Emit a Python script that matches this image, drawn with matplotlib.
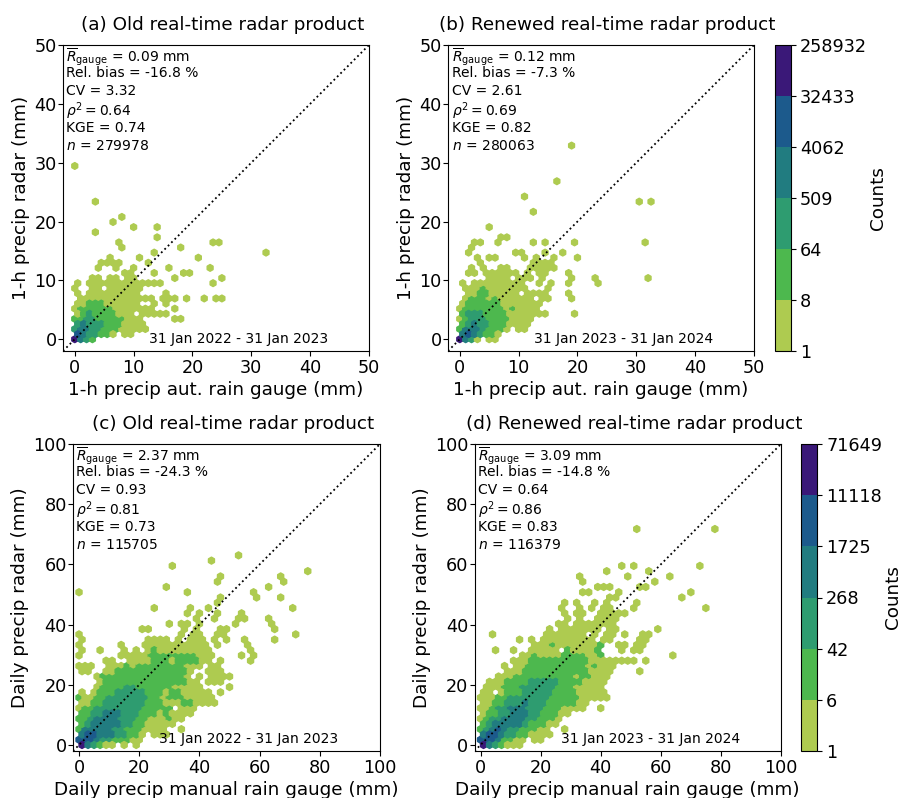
import numpy as np
import matplotlib
matplotlib.use('Agg')
import matplotlib.pyplot as plt
from matplotlib.colors import ListedColormap, BoundaryNorm

# Every row below is one row of hexagons, from the bottom up: "first_col:levels"
ROWS_A = ["0:6432", "0:5433221 8:11", "0:3443322211111", "0:343332221111",
          "0:223322222111 17:11", "0:1232222111 11:11111", "0:12222221111111 17:1",
          "0:11222111111 13:1 15:1", "1:1111111111111 15:111 19:1 22:1 24:11",
          "0:1 2:111111111 15:1", "0:1 3:11 6:111111", "0:1 2:1111111111111 23:1",
          "3:11 6:11 9:11 17:1 25:1", "8:11 13:1 18:11", "4:1 7:1 10:1 16:1 23:1",
          "4:1111 12:1", "6:1 11:1 21:1", "13:1 32:1", "8:1 18:1", "7:1 23:11",
          "14:1", "3:1", "10:1 14:1", "6:1", "8:1", "", "", "3:1",
          "", "", "", "", "", "", "0:1"]

ROWS_B = ["0:6431 5:11", "0:4543221", "0:244432221 10:11", "0:234332221111",
          "0:1233322221111", "0:233322221111111 19:1", "0:12222222121111",
          "0:12222221111111", "1:122212111111 14:11 19:1", "1:112211111 11:1111 18:1",
          "1:11121111111 15:1", "0:1 2:111111111 13:1 15:1 18:1 23:1",
          "5:1111 10:111 14:1 19:1 23:1 32:1", "1:11 4:111111 11:1 13:11 18:1",
          "2:1 4:1 7:11 12:11111", "3:1 12:1111", "3:1 5:11 11:1 13:1 16:1 20:1",
          "1:1 9:11 14:1 17:1", "2:1", "2:11 6:1 12:1 14:1 19:1 31:1", "7:11", "",
          "5:1", "", "", "12:1", "", "30:1 32:1", "11:1", "", "", "16:1",
          "", "", "", "", "", "", "19:1"]

ROWS_C = ["0:643211 7:1 9:1", "0:55543322211", "0:45544433221 12:111",
          "0:244444332221111 17:1", "0:2344444332211111", "0:223444433322111211",
          "0:2233444333222121111", "0:1223333333322222 17:111", "0:11223333333222111221111",
          "0:21122333333322122211111", "0:1 2:1222333332221221 17:11111 23:1",
          "3:1222233222222 16:11111 25:1", "3:12222222222222211 21:111",
          "3:1222222222222221 20:1 22:1111", "0:11 4:112222222222221 21:111",
          "0:111 5:1112122222222111 22:11", "4:11 8:11112221222211 23:1 28:1",
          "0:1 7:1111122222222111 27:1 29:1", "0:1 3:1 7:1 9:1 11:12111111111 28:1",
          "0:1 7:1 11:11111111111 23:1 28:1", "0:1 11:1111 16:1 18:111 22:1 24:1 27:1 32:1",
          "0:1 17:1 19:11 23:11 36:1", "10:11 17:1 19:1 23:11 32:1",
          "15:1 17:11 20:1 26:1 32:1", "19:1 22:1 26:11 31:1", "18:1 20:1 23:1 27:1",
          "12:1 18:1 21:1 35:1", "23:1", "23:1 29:1 33:1", "0:1 18:1 29:1", "14:1 31:1",
          "23:1 34:1", "23:1 33:1", "38:1", "15:1", "22:1", "26:1"]

ROWS_D = ["0:643211 6:1", "0:55542211 9:11", "0:455433221111", "0:234543322211 14:1",
          "0:2344444322211", "0:12334444332221", "0:122334443322211",
          "0:112334443332221111 20:1", "0:112233343332222211", "0:1112233333332222211111",
          "0:11 3:122233333222211111", "1:111222333333222 16:11111",
          "1:1112222333332222 17:1111", "3:1112222222222122111",
          "4:111222222222221111 26:1", "4:1 6:1122222222221 19:2111",
          "5:111222222222211111111 27:1", "7:112111122221 19:12 32:1",
          "2:1 5:1 8:11111 14:211112 23:1 25:11", "9:111211111112 23:11 26:11",
          "6:1 8:1 10:111111111 20:11 26:11", "2:1 11:1111111 19:1 21:11 24:1 27:11",
          "11:1 13:1111111 21:11 29:1", "13:11 16:111111 22:1", "14:1 16:1 19:1111",
          "14:1 16:11 20:111 23:11", "13:1 16:1 18:1 20:11 25:1 37:1",
          "14:1 16:1 19:1 21:1 26:1", "21:11 33:1", "17:11 23:1 35:1", "19:111 26:11",
          "17:1 29:1", "16:1 24:1 31:1", "21:1 28:1", "23:1 25:1 36:1",
          "", "", "", "", "", "", "26:1 39:1"]

# one count per colour level
COUNTS_HOURLY = [3, 23, 180, 1400, 11500, 90000]
COUNTS_DAILY = [2, 16, 105, 680, 4400, 28000]
BOUNDS_HOURLY = [1, 8, 64, 509, 4062, 32433, 258932]
BOUNDS_DAILY = [1, 6, 42, 268, 1725, 11118, 71649]
COLORS = ['#AECB50', '#4DB84E', '#2E9C70', '#217C80', '#1C5A8C', '#3A1878']

TITLES = ['(a) Old real-time radar product', '(b) Renewed real-time radar product',
          '(c) Old real-time radar product', '(d) Renewed real-time radar product']
PERIODS = ['31 Jan 2022 - 31 Jan 2023', '31 Jan 2023 - 31 Jan 2024',
           '31 Jan 2022 - 31 Jan 2023', '31 Jan 2023 - 31 Jan 2024']
R_GAUGE = ['0.09', '0.12', '2.37', '3.09']
REL_BIAS = ['-16.8', '-7.3', '-24.3', '-14.8']
CV = ['3.32', '2.61', '0.93', '0.64']
RHO2 = ['0.64', '0.69', '0.81', '0.86']
KGE = ['0.74', '0.82', '0.73', '0.83']
N = ['279978', '280063', '115705', '116379']

W, H = 901, 798
TICK_SIZE = 12.7
LABEL_SIZE = 13.2
TITLE_SIZE = 13.2
TEXT_SIZE = 10
# baselines of the stat lines, pixels below the top of the axes
STAT_BASELINES = [17, 32, 50, 71, 87, 105]


def px_axes(fig, left, top, right, bottom):
    return fig.add_axes([left/W, 1-bottom/H, (right-left)/W, (bottom-top)/H])


def rows_to_points(rows, counts, sx, row_step, even_shift, odd_shift):
    xs, ys, cs = [], [], []
    for k, row in enumerate(rows):
        for part in row.split():
            first, levels = part.split(':')
            for i, lev in enumerate(levels):
                shift = odd_shift if k % 2 else even_shift
                xs.append((int(first)+i)*sx + shift)
                ys.append(k*row_step)
                cs.append(counts[int(lev)-1])
    return xs, ys, cs


def draw_panel(ax, i, rows, counts, bounds, top, xlabel, ylabel):
    cmap = ListedColormap(COLORS)
    norm = BoundaryNorm(bounds, cmap.N)
    sx = top/50
    if top == 50:
        row_step = 0.866
        xs, ys, cs = rows_to_points(rows, counts, sx, row_step, 0, sx/2)
        extent = (0, 50, 0, 58*row_step)
    else:
        # daily panels: the even rows sit half a cell right of the odd ones
        row_step = 1.75
        xs, ys, cs = rows_to_points(rows, counts, sx, row_step, sx/2, 0)
        extent = (0, 100, -row_step, 57*row_step)
    hb = ax.hexbin(xs, ys, C=cs, gridsize=(50, 29), extent=extent, reduce_C_function=np.sum,
                   cmap=cmap, norm=norm)
    ax.plot([-2, top], [-2, top], 'k:', lw=1.3)
    ax.set_xlim(-2, top)
    ax.set_ylim(-2, top)
    ax.set_xticks(np.arange(0, top+1, top//5))
    ax.set_yticks(np.arange(0, top+1, top//5))
    ax.tick_params(axis='x', labelsize=TICK_SIZE, pad=2.5)
    ax.tick_params(axis='y', labelsize=TICK_SIZE, pad=1)
    ax.set_xlabel(xlabel, fontsize=LABEL_SIZE, labelpad=2.5)
    ax.set_ylabel(ylabel, fontsize=LABEL_SIZE, labelpad=3)
    ax.set_title(TITLES[i], fontsize=TITLE_SIZE, pad=10.5, x=0.521)
    stats = [r'$\overline{R}_{\mathrm{gauge}}$ = ' + R_GAUGE[i] + ' mm',
             'Rel. bias = ' + REL_BIAS[i] + ' %',
             'CV = ' + CV[i],
             r'$\rho^{2} = $' + RHO2[i],
             'KGE = ' + KGE[i],
             r'$n$ = ' + N[i]]
    box = ax.get_position()
    ax_h = box.height*H
    ax_w = box.width*W
    for line, base in zip(stats, STAT_BASELINES):
        ax.text(3.5/ax_w, 1-base/ax_h, line, transform=ax.transAxes, va='baseline', ha='left',
                fontsize=TEXT_SIZE)
    ax.text(0.281, 0.04, PERIODS[i], transform=ax.transAxes, va='center', ha='left', fontsize=TEXT_SIZE)
    return hb


def draw_colorbar(fig, hb, cax, bounds):
    cb = fig.colorbar(hb, cax=cax, ticks=bounds)
    cb.ax.set_yticklabels([str(b) for b in bounds])
    cb.ax.tick_params(labelsize=TICK_SIZE, pad=3)
    cb.set_label('Counts', fontsize=LABEL_SIZE, labelpad=1.5)


fig = plt.figure(figsize=(W/100, H/100), dpi=100)

ax_a = px_axes(fig, 63, 45, 369, 351)
ax_b = px_axes(fig, 448, 45, 754, 351)
ax_c = px_axes(fig, 73, 444, 380, 751)
ax_d = px_axes(fig, 474.5, 444, 781, 751)

draw_panel(ax_a, 0, ROWS_A, COUNTS_HOURLY, BOUNDS_HOURLY, 50,
           '1-h precip aut. rain gauge (mm)', '1-h precip radar (mm)')
hb_b = draw_panel(ax_b, 1, ROWS_B, COUNTS_HOURLY, BOUNDS_HOURLY, 50,
                  '1-h precip aut. rain gauge (mm)', '1-h precip radar (mm)')
draw_panel(ax_c, 2, ROWS_C, COUNTS_DAILY, BOUNDS_DAILY, 100,
           'Daily precip manual rain gauge (mm)', 'Daily precip radar (mm)')
hb_d = draw_panel(ax_d, 3, ROWS_D, COUNTS_DAILY, BOUNDS_DAILY, 100,
                  'Daily precip manual rain gauge (mm)', 'Daily precip radar (mm)')

draw_colorbar(fig, hb_b, px_axes(fig, 775, 45, 791, 351), BOUNDS_HOURLY)
draw_colorbar(fig, hb_d, px_axes(fig, 801, 444, 817, 751), BOUNDS_DAILY)

fig.savefig('out.png', dpi=100)
